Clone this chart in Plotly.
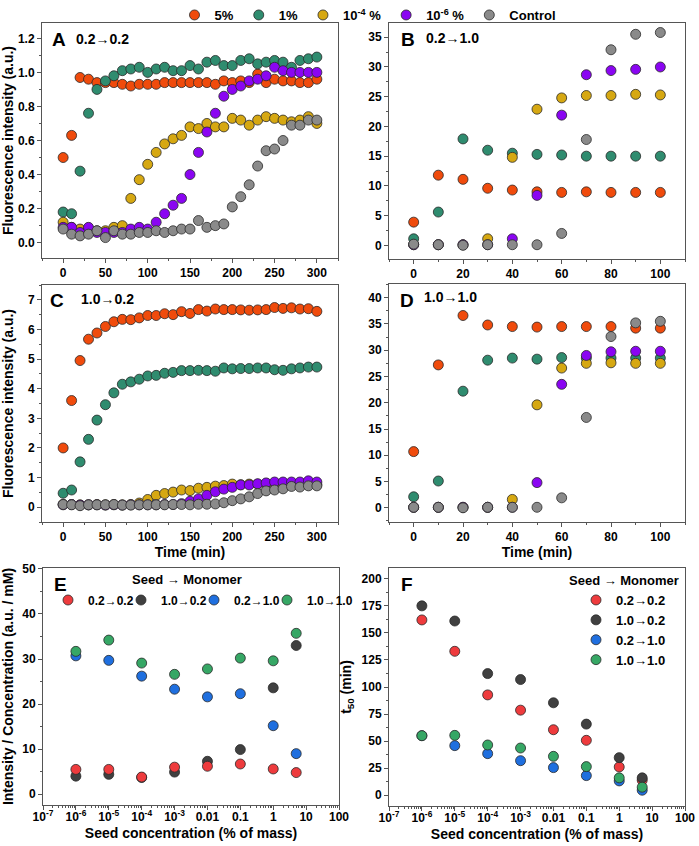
import plotly.graph_objects as go

W, H = 699, 846

# ---- data ----
t_long = list(range(0, 301, 10))
t_short = list(range(0, 101, 10))

series_names = ["5%", "1%", "10<sup>-4</sup> %", "10<sup>-6</sup> %", "Control"]
series_colors = ["#F04B0C", "#2F8C6F", "#D6A812", "#8A05F2", "#8A8A8A"]

A_5 = [0.50, 0.63, 0.97, 0.96, 0.94, 0.94, 0.94, 0.93, 0.92, 0.93, 0.93, 0.93, 0.94, 0.94, 0.94, 0.94,
       0.94, 0.94, 0.93, 0.95, 0.94, 0.95, 0.94, 0.99, 0.94, 0.96, 0.95, 0.95, 0.94, 0.94, 0.96]
A_1 = [0.18, 0.17, 0.42, 0.76, 0.90, 0.95, 0.98, 1.01, 1.02, 1.03, 1.00, 1.02, 1.03, 1.01, 1.01, 1.04,
       1.02, 1.06, 1.07, 1.04, 1.04, 1.07, 1.08, 1.05, 1.06, 1.07, 1.06, 1.03, 1.07, 1.08, 1.09]
A_4 = [0.12, 0.09, 0.08, 0.08, 0.07, 0.07, 0.09, 0.10, 0.26, 0.37, 0.46, 0.53, 0.58, 0.61, 0.63, 0.68,
       0.67, 0.70, 0.68, 0.68, 0.73, 0.72, 0.69, 0.72, 0.74, 0.73, 0.72, 0.71, 0.72, 0.74, 0.70]
A_6 = [0.09, 0.09, 0.06, 0.09, 0.06, 0.06, 0.06, 0.06, 0.08, 0.09, 0.08, 0.12, 0.17, 0.22, 0.26, 0.40,
       0.53, 0.65, 0.76, 0.86, 0.90, 0.92, 0.95, 0.96, 0.98, 1.03, 1.01, 1.00, 1.00, 1.00, 1.00]
A_c = [0.08, 0.05, 0.04, 0.05, 0.07, 0.03, 0.07, 0.05, 0.05, 0.06, 0.06, 0.07, 0.06, 0.07, 0.08, 0.08,
       0.13, 0.09, 0.10, 0.11, 0.21, 0.27, 0.34, 0.45, 0.54, 0.55, 0.60, 0.69, 0.69, 0.72, 0.72]

B_5 = [3.9, 11.8, 11.1, 9.6, 9.3, 9.0, 8.9, 9.0, 8.9, 8.9, 8.9]
B_1 = [1.1, 5.6, 17.9, 16.0, 15.5, 15.3, 15.2, 15.0, 15.0, 15.0, 15.0]
B_4 = [0.1, 0.1, 0.1, 1.1, 14.8, 22.9, 24.8, 25.2, 25.2, 25.4, 25.3]
B_6 = [0.1, 0.1, 0.1, 0.1, 1.1, 8.4, 21.9, 28.7, 29.4, 29.6, 30.0]
B_c = [0.2, 0.1, 0.0, 0.1, 0.1, 0.1, 2.0, 17.8, 32.9, 35.5, 35.8]

C_5 = [2.00, 3.60, 4.95, 5.67, 5.88, 6.10, 6.26, 6.34, 6.33, 6.39, 6.47, 6.47, 6.53, 6.50, 6.60, 6.54,
       6.67, 6.62, 6.69, 6.67, 6.67, 6.66, 6.65, 6.66, 6.67, 6.74, 6.71, 6.73, 6.69, 6.70, 6.61]
C_1 = [0.47, 0.58, 1.53, 2.29, 2.94, 3.46, 3.86, 4.15, 4.23, 4.32, 4.43, 4.45, 4.52, 4.55, 4.61, 4.61,
       4.62, 4.61, 4.59, 4.70, 4.67, 4.68, 4.68, 4.70, 4.70, 4.64, 4.62, 4.67, 4.70, 4.73, 4.73]
C_4 = [0.10, 0.09, 0.08, 0.08, 0.09, 0.08, 0.09, 0.08, 0.09, 0.14, 0.26, 0.40, 0.46, 0.51, 0.58, 0.56,
       0.64, 0.67, 0.71, 0.73, 0.78, 0.76, 0.78, 0.78, 0.80, 0.78, 0.80, 0.80, 0.78, 0.75, 0.76]
C_6 = [0.08, 0.09, 0.07, 0.08, 0.08, 0.07, 0.08, 0.07, 0.08, 0.08, 0.08, 0.08, 0.09, 0.09, 0.12, 0.20,
       0.28, 0.40, 0.52, 0.61, 0.67, 0.75, 0.75, 0.79, 0.82, 0.85, 0.85, 0.85, 0.85, 0.89, 0.85]
C_c = [0.09, 0.08, 0.05, 0.08, 0.08, 0.08, 0.09, 0.07, 0.07, 0.08, 0.08, 0.08, 0.08, 0.09, 0.09, 0.08,
       0.10, 0.10, 0.11, 0.15, 0.22, 0.28, 0.35, 0.46, 0.55, 0.58, 0.62, 0.70, 0.68, 0.72, 0.72]

D_5 = [10.7, 27.2, 36.6, 34.8, 34.5, 34.4, 34.5, 34.5, 34.5, 34.2, 34.2]
D_1 = [2.1, 5.1, 22.2, 28.1, 28.5, 28.3, 28.6, 28.5, 28.5, 28.5, 28.5]
D_4 = [0.1, 0.1, 0.1, 0.1, 1.6, 19.6, 26.6, 27.5, 27.6, 27.5, 27.5]
D_6 = [0.1, 0.1, 0.1, 0.1, 0.1, 4.8, 23.5, 29.0, 29.7, 29.8, 29.8]
D_c = [0.1, 0.1, 0.0, 0.1, 0.1, 0.1, 1.9, 17.2, 32.6, 35.2, 35.5]

seed = [1e-6, 1e-5, 1e-4, 1e-3, 0.01, 0.1, 1, 5]
pair_names = ["0.2→0.2", "1.0→0.2", "0.2→1.0", "1.0→1.0"]
pair_colors = ["#EE3B3D", "#404040", "#1F6FDF", "#36A765"]

E_22 = [5.5, 5.5, 3.8, 6.0, 6.2, 6.7, 5.6, 4.8]
E_102 = [4.0, 4.4, 3.7, 4.9, 7.3, 9.9, 23.6, 33.0]
E_210 = [30.7, 29.7, 26.2, 23.3, 21.6, 22.3, 15.2, 9.0]
E_1010 = [31.7, 34.2, 29.1, 26.6, 27.8, 30.2, 29.6, 35.7]

F_22 = [162, 133, 92.7, 78.6, 60.5, 50.7, 26.1, 13.8]
F_102 = [175, 161, 112.4, 106.9, 85.4, 65.7, 34.7, 16.0]
F_210 = [55, 45.8, 38.4, 31.9, 25.5, 18.1, 13.2, 4.6]
F_1010 = [55, 55.3, 46.4, 43.6, 35.9, 26.4, 16.0, 7.4]

log_ticks = [1e-7, 1e-6, 1e-5, 1e-4, 1e-3, 0.01, 0.1, 1, 10, 100]
log_labels = ["10<sup>-7</sup>", "10<sup>-6</sup>", "10<sup>-5</sup>", "10<sup>-4</sup>", "10<sup>-3</sup>",
              "0.01", "0.1", "1", "10", "100"]

FONT = "Liberation Sans, Arial, sans-serif"


def px(x):
    return x / W


def py(y):
    return 1 - y / H


fig = go.Figure()
mk_line = dict(color="#2a2a2a", width=0.8)

panels = [
    ("x", "y", t_long, [A_5, A_1, A_4, A_6, A_c], True),
    ("x2", "y2", t_short, [B_5, B_1, B_4, B_6, B_c], False),
    ("x3", "y3", t_long, [C_5, C_1, C_4, C_6, C_c], False),
    ("x4", "y4", t_short, [D_5, D_1, D_4, D_6, D_c], False),
]
for xa, ya, tt, ys, show in panels:
    for name, col, yy in zip(series_names, series_colors, ys):
        fig.add_trace(go.Scatter(x=tt, y=yy, xaxis=xa, yaxis=ya, mode="markers", name=name,
                                 marker=dict(size=10, color=col, line=mk_line),
                                 showlegend=show, legend="legend"))

# E: dark drawn below red
e_order = [(1, E_102), (0, E_22), (2, E_210), (3, E_1010)]
for i, yy in e_order:
    fig.add_trace(go.Scatter(x=seed, y=yy, xaxis="x5", yaxis="y5", mode="markers", name=pair_names[i],
                             marker=dict(size=10, color=pair_colors[i], line=mk_line),
                             legend="legend2", legendrank=i + 1,
                             legendwidth=50 if i == 3 else None))
for i, yy in enumerate([F_22, F_102, F_210, F_1010]):
    fig.add_trace(go.Scatter(x=seed, y=yy, xaxis="x6", yaxis="y6", mode="markers", name=pair_names[i],
                             marker=dict(size=10, color=pair_colors[i], line=mk_line),
                             legend="legend3", legendrank=i + 1))

axis_common = dict(showline=True, mirror=True, linecolor="#555555", linewidth=1,
                   ticks="outside", ticklen=4, tickcolor="#555555", showgrid=False, zeroline=False,
                   automargin=False, tickfont=dict(family=FONT, size=12, color="black", weight="bold"),
                   title_font=dict(family=FONT, size=14, color="black", weight="bold"))
minor = dict(ticks="outside", ticklen=2, tickcolor="#555555", showgrid=False)

# pixel boxes: (left, right, top, bottom)
boxes = {
    "A": (42, 338, 23, 258), "B": (389, 685, 23, 259),
    "C": (42, 338, 285, 522), "D": (389, 685, 284, 522),
    "E": (43, 339, 568, 805), "F": (389, 685, 568, 806),
}


def dom(b):
    l, r, t, bt = boxes[b]
    return dict(domain=[px(l), px(r)]), dict(domain=[py(bt), py(t)])


xA, yA = dom("A")
xB, yB = dom("B")
xC, yC = dom("C")
xD, yD = dom("D")
xE, yE = dom("E")
xF, yF = dom("F")

fig.update_layout(
    xaxis=dict(**axis_common, **xA, anchor="y", range=[-25, 325], dtick=50, tick0=0,
               minor=dict(**minor, dtick=25)),
    yaxis=dict(**axis_common, **yA, anchor="x", range=[-0.09, 1.29], dtick=0.2, tick0=0, tickformat=".1f",
               minor=dict(**minor, dtick=0.1), title=dict(text="Fluorescence intensity (a.u.)", standoff=6)),
    xaxis2=dict(**axis_common, **xB, anchor="y2", range=[-10, 110], dtick=20, tick0=0,
                minor=dict(**minor, dtick=10)),
    yaxis2=dict(**axis_common, **yB, anchor="x2", range=[-2.3, 37.4], dtick=5, tick0=0,
                minor=dict(**minor, dtick=2.5)),
    xaxis3=dict(**axis_common, **xC, anchor="y3", range=[-25, 325], dtick=50, tick0=0,
                minor=dict(**minor, dtick=25), title=dict(text="Time (min)", standoff=2)),
    yaxis3=dict(**axis_common, **yC, anchor="x3", range=[-0.5, 7.5], dtick=1, tick0=0,
                minor=dict(**minor, dtick=0.5), title=dict(text="Fluorescence intensity (a.u.)", standoff=14)),
    xaxis4=dict(**axis_common, **xD, anchor="y4", range=[-10, 110], dtick=20, tick0=0,
                minor=dict(**minor, dtick=10), title=dict(text="Time (min)", standoff=2)),
    yaxis4=dict(**axis_common, **yD, anchor="x4", range=[-2.7, 42.6], dtick=5, tick0=0,
                minor=dict(**minor, dtick=2.5)),
    xaxis5=dict(**axis_common, **xE, anchor="y5", type="log", range=[-7, 2], tickvals=log_ticks,
                ticktext=log_labels, minor=dict(**minor, dtick="D1"), ticklabelstandoff=-3,
                title=dict(text="Seed concentration (% of mass)", standoff=4)),
    yaxis5=dict(**axis_common, **yE, anchor="x5", range=[-2.4, 50.2], dtick=10, tick0=0,
                minor=dict(**minor, dtick=5),
                title=dict(text="Intensity / Concentration (a.u. / mM)", standoff=7)),
    xaxis6=dict(**axis_common, **xF, anchor="y6", type="log", range=[-7, 2], tickvals=log_ticks,
                ticktext=log_labels, minor=dict(**minor, dtick="D1"), ticklabelstandoff=-3,
                title=dict(text="Seed concentration (% of mass)", standoff=4)),
    yaxis6=dict(**axis_common, **yF, anchor="x6", range=[-10, 210], dtick=25, tick0=0,
                minor=dict(**minor, dtick=12.5),
                title=dict(text="t<sub>50</sub> (min)", standoff=6)),
)

leg_font = dict(family=FONT, size=13, color="black", weight="bold")
fig.update_layout(
    template="none",
    width=W, height=H,
    margin=dict(l=0, r=0, t=0, b=0),
    paper_bgcolor="white", plot_bgcolor="white",
    font=dict(family=FONT, size=12, color="black", weight="bold"),
    legend=dict(orientation="h", x=px(368), xanchor="center", y=1, yanchor="top",
                font=leg_font, bgcolor="rgba(0,0,0,0)", itemwidth=30),
    legend2=dict(orientation="h", x=px(48), xanchor="left", y=py(600), yanchor="middle",
                 font=dict(family=FONT, size=12, color="black", weight="bold"),
                 bgcolor="rgba(0,0,0,0)", itemwidth=30, entrywidth=28, entrywidthmode="pixels"),
    legend3=dict(orientation="v", x=px(576), xanchor="left", y=py(585), yanchor="top",
                 font=leg_font, bgcolor="rgba(0,0,0,0)", itemwidth=30),
)

ann = [
    ("A", 59, 40, 19), ("0.2→0.2", 103, 39, 14),
    ("B", 408, 39, 19), ("0.2→1.0", 452, 38, 14),
    ("C", 57, 300, 19), ("1.0→0.2", 107, 299, 14),
    ("D", 407, 300, 19), ("1.0→1.0", 450, 297, 14),
    ("E", 60, 584, 19), ("Seed → Monomer", 187, 579, 13),
    ("F", 407, 584, 19), ("Seed → Monomer", 624, 580, 13),
]
for text, x, y, s in ann:
    fig.add_annotation(text=text, x=px(x), y=py(y), xref="paper", yref="paper", showarrow=False,
                       xanchor="center", yanchor="middle",
                       font=dict(family=FONT, size=s, color="black", weight="bold"))

# the page's default body margin would shift the figure by 8 px
fig.write_html("out.html", config={"displayModeBar": False},
               post_script="document.body.style.margin='0';")
